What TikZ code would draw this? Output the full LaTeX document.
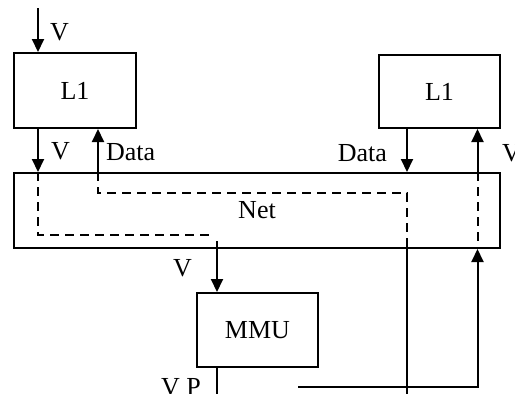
\documentclass[tikz,border=0pt]{standalone}
\usepackage{fontspec}
\setmainfont{Liberation Serif}
\usetikzlibrary{arrows.meta}
\begin{document}
\begin{tikzpicture}[x=1pt,y=-1pt,
  line width=2pt,
  font=\fontsize{26}{30}\selectfont,
  block/.style={draw,rectangle,inner sep=0pt},
  lbl/.style={inner sep=0pt},
  arr/.style={-{Triangle[length=13pt,width=12pt]}},
  path/.style={dash pattern=on 9pt off 6pt}]
\useasboundingbox (0,0) rectangle (515,394);
\clip (0,0) rectangle (515,394);

% blocks
\node[block,minimum width=122pt,minimum height=75pt] (L1a) at (75,90.5) {L1};
\node[block,minimum width=121pt,minimum height=73pt] (L1b) at (439.5,91.5) {L1};
\node[block,minimum width=486pt,minimum height=75pt] (net) at (257,210.5) {Net};
\node[block,minimum width=121pt,minimum height=74pt] (mmu) at (257.5,330) {MMU};

% free ends and corners
\coordinate (in) at (38,8);
\coordinate (dA) at (38,235);
\coordinate (mmuIn) at (217,241);
\coordinate (dB) at (98,193);
\coordinate (vpOut) at (217,400);
\coordinate (feed) at (298,387);
\coordinate (dataOut) at (407,400);

% solid connectors
\draw[arr] (in) -- (in |- L1a.north);
\draw[arr] (L1a.south -| 38,0) -- (net.north -| 38,0);
\draw[arr] (net.north -| 98,0) -- (L1a.south -| 98,0);
\draw[arr] (L1b.south -| 407,0) -- (net.north -| 407,0);
\draw[arr] (net.north -| 477.5,0) -- (L1b.south -| 477.5,0);
\draw[arr] (mmuIn) -- (mmuIn |- mmu.north);
\draw (mmu.south -| 217,0) -- (vpOut);
\draw[arr] (feed) -| (net.south -| 477.5,0);
\draw (net.south -| dataOut) -- (dataOut);

% dashed routes through the network
\draw[path] (net.north -| 38,0) -- (dA) -- (dA -| 213,0);
\draw[path] (net.north -| 98,0) -- (dB) -| (net.south -| 407,0);
\draw[path] (net.north -| 477.5,0) -- (net.south -| 477.5,0);

% labels
\node[lbl,anchor=base west] at (49,40) {V};
\node[lbl,anchor=base west] at (50,159) {V};
\node[lbl,anchor=base west] at (105,160) {Data};
\node[lbl,anchor=base east] at (388,161) {Data};
\node[lbl,anchor=base west] at (501,161) {V};
\node[lbl,anchor=base west] at (172,276) {V};
\node[lbl,anchor=base west] at (160,395) {V P};
\end{tikzpicture}
\end{document}
